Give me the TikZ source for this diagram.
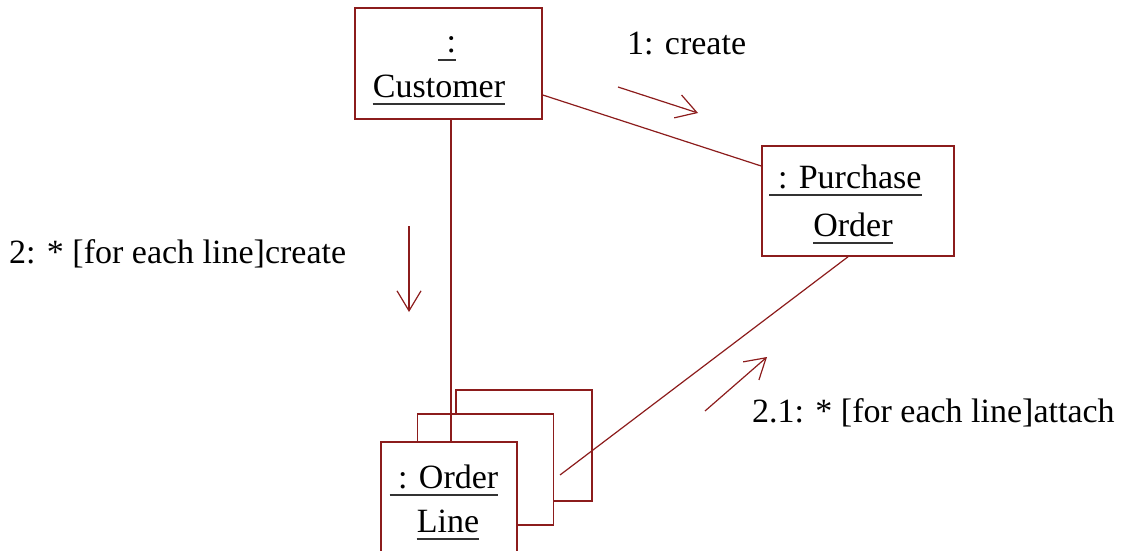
\documentclass[tikz,border=0pt]{standalone}
\usepackage{fontspec}
\setmainfont{Liberation Serif}
\usetikzlibrary{arrows.meta}
\definecolor{umlred}{RGB}{140,28,28}
\begin{document}
\begin{tikzpicture}[x=1pt,y=-1pt,
  every node/.style={font=\fontsize{34}{40}\selectfont},
  objbox/.style={draw=umlred,line width=1.6pt,fill=white,rectangle,inner sep=0,minimum width=#1},
  objbox/.default=136pt,
  txt/.style={inner sep=0,anchor=base,text=black},
  lbl/.style={inner sep=0,anchor=base west,text=black},
  uline/.style={line width=1.4pt,draw=black!80},
  conn/.style={draw=umlred,line width=1.2pt},
  msg/.style={draw=umlred,line width=1.2pt,-{Straight Barb[length=20pt,width=24pt,line width=1.2pt]}}
]
\useasboundingbox (0,0) rectangle (1122,551);
\clip (0,0) rectangle (1122,551);

% object boxes
\node[objbox=187pt,minimum height=111pt] (cust) at (448.5,63.5) {};
\node[objbox=192pt,minimum height=110pt] (po) at (858,201) {};
\node[objbox,minimum height=111pt] (olback) at (524,445.5) {};
\node[objbox,minimum height=111pt] (olmid) at (485.5,469.5) {};
\node[objbox,minimum height=111pt] (ol) at (449,497.5) {};

% object names (underlined)
\node[txt] (t1) at (447,53) {\ :\ };
\node[txt] (t2) at (439,97) {Customer};
\node[txt] (t3) at (845.5,188) {\ : Purchase\ };
\node[txt] (t4) at (853,236) {Order};
\node[txt] (t5) at (444,488) {\ : Order};
\node[txt] (t6) at (448,532) {Line};
\foreach \t in {t1,t2,t3,t4,t5,t6}
  \draw[uline] ([yshift=-7pt]\t.base west) -- ([yshift=-7pt]\t.base east);

% links
\draw[conn] ([yshift=-31.5pt]cust.east) -- ([yshift=35pt]po.west);
\draw[conn] ([xshift=2.5pt]cust.south) coordinate (v) -- (v |- ol.north);
\coordinate (olend) at (560,475);
\draw[conn] ([xshift=-10pt]po.south) -- (olend);

% messages
\coordinate (m1s) at (618,87);  \coordinate (m1e) at (698,113);
\coordinate (m2s) at (409,226); \coordinate (m2e) at (409,312);
\coordinate (m3s) at (705,411); \coordinate (m3e) at (767,357);
\draw[msg] (m1s) -- (m1e);
\draw[msg] (m2s) -- (m2e);
\draw[msg] (m3s) -- (m3e);

\node[lbl] (l1) at (627,55) {1: create};
\node[lbl] (l2) at (9,263) {2: * [for each line]create};
\node[lbl] (l3) at (752,422) {2.1: * [for each line]attach};
\end{tikzpicture}
\end{document}
